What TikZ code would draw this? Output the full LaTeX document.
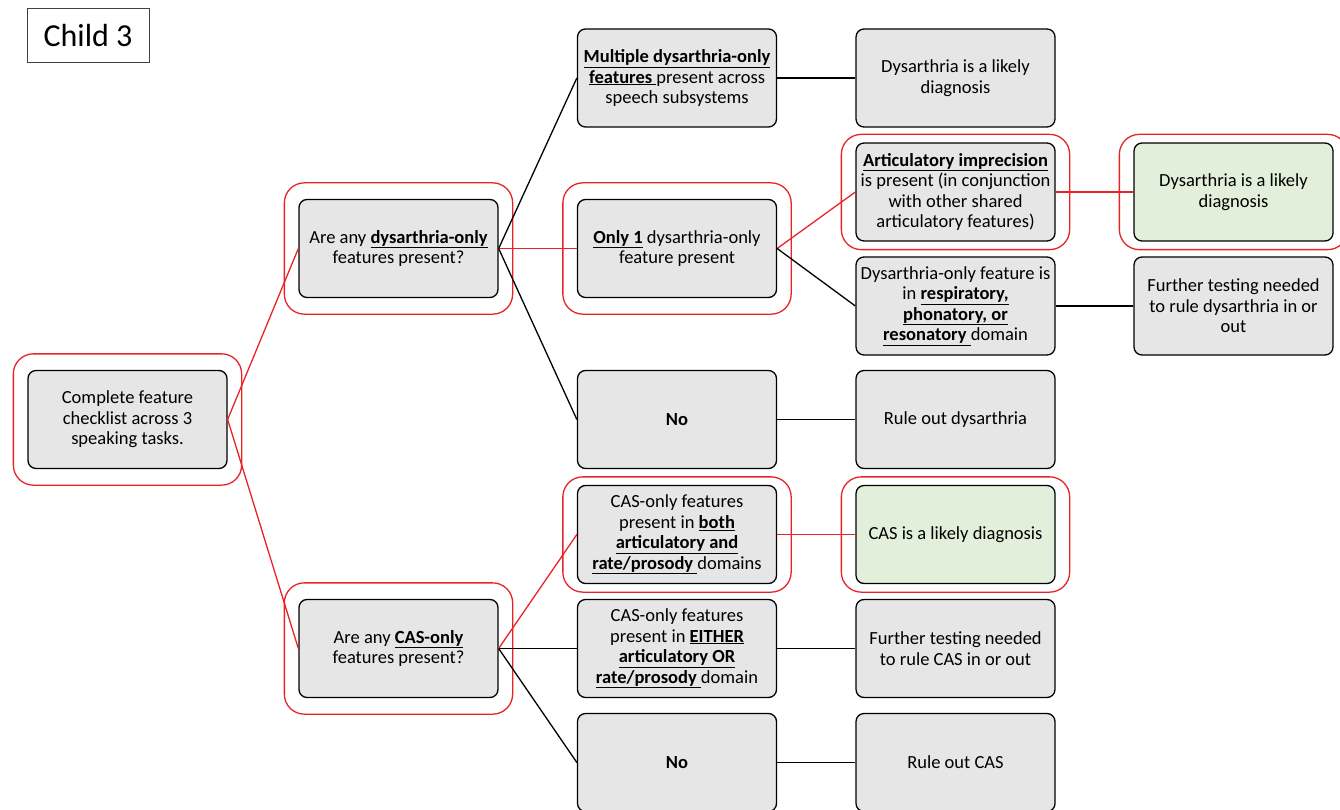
\documentclass[tikz,border=0pt]{standalone}
\usepackage{fontspec}
\setmainfont{Carlito}
\usetikzlibrary{fit}

\definecolor{boxgrey}{RGB}{231,230,230}
\definecolor{likelygreen}{RGB}{226,239,218}
\definecolor{ringred}{RGB}{232,35,40}
\newcommand{\ub}[1]{\underline{\textbf{#1}}}

\begin{document}
\begin{tikzpicture}[x=1pt,y=-1pt,
    box/.style={draw=black,line width=1.3pt,rounded corners=8pt,fill=boxgrey,
      minimum width=199pt,minimum height=98pt,align=center,inner sep=2pt,
      font=\fontsize{18.5}{20.5}\selectfont},
    likely/.style={box,fill=likelygreen},
    ring/.style={draw=ringred,line width=1.3pt,rounded corners=20pt,
      inner xsep=14pt,inner ysep=16pt},
    ringtight/.style={ring,inner xsep=14pt,inner ysep=8pt},
    redline/.style={draw=ringred,line width=1.3pt},
    blackline/.style={draw=black,line width=1.3pt}]
      \useasboundingbox (0,0) rectangle (1340,810);
      \node [draw=black!75,line width=1pt,minimum width=122pt,minimum height=54pt,
        font=\fontsize{32}{36}\selectfont] (title) at (88,36) {Child 3};

      \node [box] (start) at (127.5,419.5) {Complete feature\\checklist across 3\\speaking tasks.};
      \node [box] (dys) at (398.5,248.5) {Are any \ub{dysarthria-only}\\features present?};
      \node [box] (cas) at (398.5,648.5) {Are any \ub{CAS-only}\\features present?};

      \node [box] (multi) at (677,78) {\ub{Multiple dysarthria-only}\\\ub{features }present across\\speech subsystems};
      \node [box] (one) at (677,248.5) {\ub{Only 1} dysarthria-only\\feature present};
      \node [box] (dysno) at (677,419.5) {\textbf{No}};
      \node [box] (both) at (677,534.5) {CAS-only features\\present in \ub{both}\\\ub{articulatory and}\\\ub{rate/prosody }domains};
      \node [box] (either) at (677,648.5) {CAS-only features\\present in \ub{EITHER}\\\ub{articulatory OR}\\\ub{rate/prosody }domain};
      \node [box] (casno) at (677,762.5) {\textbf{No}};

      \node [box] (dyslikelyA) at (955.5,78) {Dysarthria is a likely\\diagnosis};
      \node [box] (artic) at (955.5,192) {\ub{Articulatory imprecision}\\is present (in conjunction\\with other shared\\articulatory features)};
      \node [box] (resp) at (955.5,306) {Dysarthria-only feature is\\in \ub{respiratory,}\\\ub{phonatory, or}\\\ub{resonatory }domain};
      \node [box] (ruledys) at (955.5,419.5) {Rule out dysarthria};
      \node [likely] (caslikely) at (955.5,534.5) {CAS is a likely diagnosis};
      \node [box] (castest) at (955.5,648.5) {Further testing needed\\to rule CAS in or out};
      \node [box] (rulecas) at (955.5,762.5) {Rule out CAS};

      \node [likely] (dyslikelyB) at (1233.5,192) {Dysarthria is a likely\\diagnosis};
      \node [box] (dystest) at (1233.5,306) {Further testing needed\\to rule dysarthria in or\\out};

      % highlighted path
      \node [ring,fit=(start)] (startring) {};
      \node [ring,fit=(dys)] (dysring) {};
      \node [ring,fit=(cas)] (casring) {};
      \node [ring,fit=(one)] (onering) {};
      \node [ringtight,fit=(artic)] (articring) {};
      \node [ringtight,fit=(dyslikelyB)] (dyslikelyring) {};
      \node [ringtight,fit=(both)] (bothring) {};
      \node [ringtight,fit=(caslikely)] (caslikelyring) {};

      \draw [redline] (start.east) -- (dys.west);
      \draw [redline] (start.east) -- (cas.west);
      \draw [blackline] (dys.east) -- (multi.west);
      \draw [redline] (dys.east) -- (one.west);
      \draw [blackline] (dys.east) -- (dysno.west);
      \draw [redline] (cas.east) -- (both.west);
      \draw [blackline] (cas.east) -- (either.west);
      \draw [blackline] (cas.east) -- (casno.west);

      \draw [blackline] (multi.east) -- (dyslikelyA.west);
      \draw [redline] (one.east) -- (artic.west);
      \draw [blackline] (one.east) -- (resp.west);
      \draw [blackline] (dysno.east) -- (ruledys.west);
      \draw [redline] (both.east) -- (caslikely.west);
      \draw [blackline] (either.east) -- (castest.west);
      \draw [blackline] (casno.east) -- (rulecas.west);

      \draw [redline] (artic.east) -- (dyslikelyB.west);
      \draw [blackline] (resp.east) -- (dystest.west);
\end{tikzpicture}
\end{document}
